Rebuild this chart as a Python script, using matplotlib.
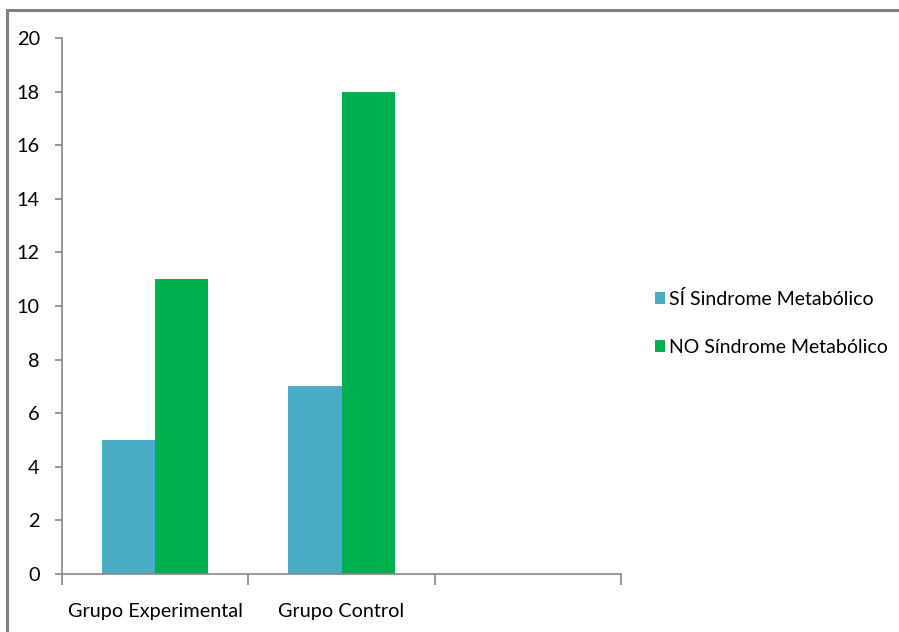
import matplotlib.pyplot as plt
from matplotlib.patches import Rectangle

# Datos
grupos = ["Grupo Experimental", "Grupo Control", ""]
si_sindrome = [5, 7, 0]
no_sindrome = [11, 18, 0]
etiquetas = ["SÍ Sindrome Metabólico", "NO Síndrome Metabólico"]

plt.rcParams['font.family'] = ['Lato', 'DejaVu Sans']

fig = plt.figure(figsize=(8.99, 6.32), dpi=100)
ax = fig.add_axes([62/899, 58/632, (621-62)/899, (574-38)/632])

# Marco exterior del gráfico
fig.patches.append(Rectangle((7/899, -0.05), 1.1, (632-10)/632 + 0.05,
                             transform=fig.transFigure, fill=False,
                             edgecolor='#7f7f7f', linewidth=2.2))

ancho = 1 / 3.5
x = range(len(grupos))
ax.bar([i - ancho/2 for i in x][:2], si_sindrome[:2], ancho, color='#4BACC6', label=etiquetas[0])
ax.bar([i + ancho/2 for i in x][:2], no_sindrome[:2], ancho, color='#00B050', label=etiquetas[1])

ax.set_xlim(-0.5, 2.5)
ax.set_ylim(0, 20)
ax.set_yticks(range(0, 21, 2))
ax.set_xticks([-0.5, 0.5, 1.5, 2.5])
ax.set_xticklabels([])
ax.set_xticks([0, 1], minor=True)
ax.set_xticklabels(grupos[:2], minor=True)
ax.tick_params(axis='x', which='minor', length=0, pad=21, labelsize=14.3)
ax.tick_params(axis='x', which='major', length=8, color='#868686', width=1.2)
ax.tick_params(axis='y', length=5, color='#868686', width=1.2, labelsize=14.3, pad=11)

for lado in ['top', 'right']:
    ax.spines[lado].set_visible(False)
for lado in ['left', 'bottom']:
    ax.spines[lado].set_color('#868686')
    ax.spines[lado].set_linewidth(1.2)

ax.legend(loc='center left', bbox_to_anchor=(637/899, 1 - 323/632), bbox_transform=fig.transFigure,
          frameon=False, fontsize=14, handlelength=0.55, handleheight=0.55,
          handletextpad=0.2, labelspacing=1.6)

fig.savefig("out.png", dpi=100)
